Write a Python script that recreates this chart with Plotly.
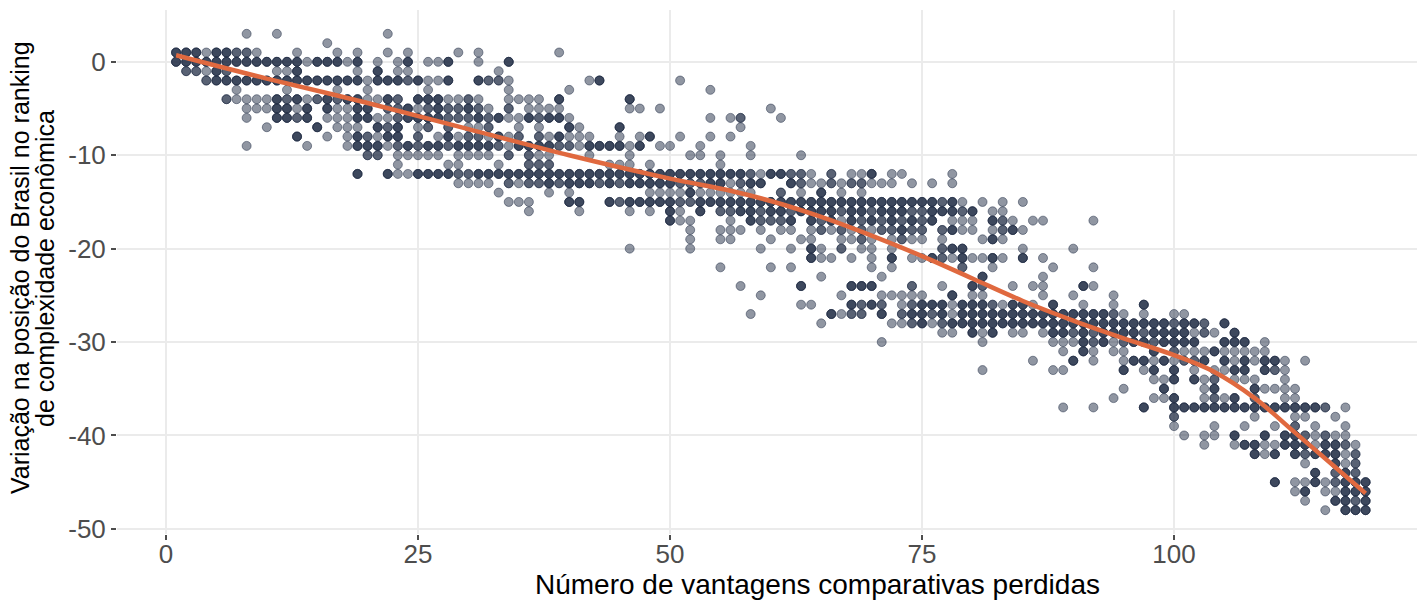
import plotly.graph_objects as go

# ---- data ----
# each row: y value (variation in ranking) and the x values (lost advantages) found on it
# suffix "g" = a few overlapping observations, "d" = many overlapping observations
y_rows = [3, 2, 1, 0, -1, -2, -3, -4, -5, -6, -7, -8, -9, -10, -11, -12, -13, -14, -15, -16,
          -17, -18, -19, -20, -21, -22, -23, -24, -25, -26, -27, -28, -29, -30, -31, -32, -33,
          -34, -35, -36, -37, -38, -39, -40, -41, -42, -43, -44, -45, -46, -47, -48]
x_runs = [
    "8,11,22",
    "16",
    "1-3d,4,5d,6d,7g,8g,9,13,17,19,22,24,29,31,39",
    "1-13d,14,15-17d,18,19d,21,23,24d,26,27,28d,31,34d",
    "2g,3g,4,5d,6g,11,12,13d,19,21d,23,24,33",
    "4g,5-19d,20,21-23d,24g,25d,26,27,28d,31d,32g,33g,34,42,43d,51",
    "7,12,17,20,26,34,40,54",
    "6g,7,8,9,10,11d,12g,13d,14,15g,16d,17g,18d,19d,20,21,22d,23g,25d,26d,27d,28,29,30g,31,34,35,36,37,39d,46d",
    "8,9,10,11d,12d,13,14d,16d,17,18,19d,20d,22g,23g,24d,25,26g,27d,28g,29g,30d,31g,32,34g,36,37,38,39,46,47,49,60",
    "8,11d,12d,13g,14d,16,17,18,19d,20d,21,22,23g,24d,25d,26d,27d,28g,29g,30g,31d,32g,33d,34,35,36d,37g,38d,39d,40,54,56,57g,61",
    "10,15d,17,18,19,21d,22g,23d,25,26g,28g,30,31,32g,35,37,40d,41,45d,57",
    "13d,16,18,19d,20g,21,22d,23d,25g,27,28d,29,30g,31g,32,33d,34,35g,37g,38,39d,40,41,42,45,47,48d,51,54,56",
    "8,14,18,19d,20d,21d,22,23g,24d,25g,26d,27d,28g,29-32d,33g,34,35-38d,39g,40g,41,42-45d,46,47d,49,50,53,58",
    "20g,21g,23,24,25,26,27,29,30,31,32,34g,36g,37,38,42,46,52,53,55,58,63",
    "23,28,29,33,36g,37g,38g,44,45,46,48,55",
    "19d,22d,23,24,25-28d,29g,30g,31-57d,58g,59,60d,61d,62g,63g,64,66g,68,69,70d,72,73,78",
    "29,30,31,32,34g,35,36g,37g,38d,39g,40-42d,43g,44d,45g,46-50d,51g,52g,53g,54d,55d,56,57g,58d,59d,62d,63g,64,65,66g,67,68g,69g,70,71,72,74,76,78",
    "33,38,40,48,49,50,51,52d,53,54,55,56,57,58,61g,63,65d,67,69",
    "34,35,36,40d,41d,44d,45g,46-50d,51g,52g,53-76d,77g,78d,79,81,83,85",
    "36,41,46,48,50d,51,53d,55g,56g,57d,58d,59g,60d,61d,62g,63-66d,67g,68d,69d,70g,71-73d,74g,75g,76-78d,79g,80d,82,83",
    "50d,51,52,56,58d,59g,60g,61g,62d,64d,65g,66d,67,68d,69g,70d,71g,72d,73g,74d,75g,76d,78,79,80,82d,83g,84,86,87,92",
    "52,55,56,57,59,61,62,64,65g,66,67g,68,69g,70,71g,72g,73d,74g,75g,77g,78d,79,80,82,83g,84d,85",
    "52,55,56,60,63,64,67,68,69g,70,72,73g,74,75,77,81,82d,83",
    "46,52,59,62,64d,65,67g,69,70,72,77g,78d,79d,85,90",
    "64d,65,66,68,70,72d,74,75,76d,77g,78,79d,80,81,82d,83,85d,87",
    "55,60,62,70,72,79g,82,88,92",
    "65,71,81d,87",
    "57,63d,68d,69d,70d,74g,77,80d,81g,84,86,87,91d,92",
    "59,67,71,72,73,74,75,78d,80,81,87,90,94",
    "63,64,68d,69g,70d,71g,73,74g,75-77d,78,79-81d,82g,83,84d,85d,86,88d,91,94,97d",
    "58,66d,67,68g,69g,71d,73g,74d,75d,76g,77d,78,79-93d,94g,95,97,100,101",
    "65,72,73,74g,75d,76,77g,78-99d,100g,101d,102d,103g,105d",
    "77,78,80d,81,82d,84,85,87,88d,89d,90g,91d,92g,93-96d,97g,98-101d,102,103g,104,106d",
    "71,81,88,89,90,91d,92g,93d,94,95g,96d,97d,98g,99-102d,105-107d,109",
    "89,91d,92,94,95,98d,100g,101,102,103,104d,105,106,107,108,109",
    "86,90d,92,95,96d,97d,98,99d,100,101g,102g,103d,105d,106,107d,108,109d,110d,111,113",
    "81,88,89,95d,97,98d,100d,102,104,105,106d,107d,109d,110g,111",
    "98,99,100d,102d,103,104g,106,107,108,111",
    "95,99d,103,104d,108d,109,110,111,112",
    "94,98,99,100d,103,104g,105,106d,108g,111,112",
    "89,92,97d,100-114d,115g,117",
    "100g,108,112,113,116",
    "100,104,107,110,112g,114,117",
    "101,103,104,106d,109d,111d,112d,113g,114,115g,116,117",
    "103,106,107d,108d,109,110,111d,112d,113d,114,115d,116d,117g,118",
    "108d,109,110d,112d,113g,114-116d,117,118g",
    "113,116d,117,118g",
    "114d,116g,117d,118g",
    "110d,112,113,114d,115,116g,117-119d",
    "112,113d,115,116,117d,118d,119d",
    "113,116d,117d,118g,119d",
    "115,117d,118d,119d",
]
shade_counts = {"": 1, "g": 2, "d": 3}

# smoothed trend
smooth_x = [1, 10, 20, 30, 40, 50, 56, 60, 65, 70, 75, 80, 85, 90, 95, 100, 104, 108,
            112, 116, 119]
smooth_y = [0.7, -1.8, -4.4, -7.2, -10.0, -12.5, -13.8, -14.9, -16.6, -18.6, -20.8, -23.2,
            -25.6, -27.7, -29.6, -31.4, -33.2, -36.0, -39.7, -43.4, -46.2]

x_tick_vals = [0, 25, 50, 75, 100]
x_tick_text = ["0", "25", "50", "75", "100"]
y_tick_vals = [0, -10, -20, -30, -40, -50]
y_tick_text = ["0", "-10", "-20", "-30", "-40", "-50"]

x_title = "Número de vantagens comparativas perdidas"
y_title_1 = "Variação na posição do Brasil no ranking"
y_title_2 = "de complexidade econômica"

# ---- expand rows into observations ----
pts_x, pts_y = [], []
for yv, spec in zip(y_rows, x_runs):
    for tok in spec.split(","):
        shade = tok[-1] if tok[-1] in "gd" else ""
        core = tok[:-1] if shade else tok
        if "-" in core:
            a, b = (int(v) for v in core.split("-"))
        else:
            a = b = int(core)
        for xv in range(a, b + 1):
            for _ in range(shade_counts[shade]):
                pts_x.append(xv)
                pts_y.append(yv)

FONT = "Liberation Sans, Arial, sans-serif"
dot = "rgba(34,46,70,0.5)"

fig = go.Figure()
fig.add_trace(go.Scatter(
    x=pts_x, y=pts_y, mode="markers",
    marker=dict(size=9, color=dot, line=dict(width=1, color=dot)),
    hoverinfo="skip",
))
fig.add_trace(go.Scatter(
    x=smooth_x, y=smooth_y, mode="lines",
    line=dict(color="#E0693F", width=4.5, shape="spline", smoothing=1.0),
    hoverinfo="skip",
))

axis_common = dict(
    showgrid=True, gridcolor="#EBEBEB", gridwidth=2, zeroline=False, showline=False,
    ticks="outside", ticklen=5, tickwidth=2, tickcolor="#4D4D4D",
    tickfont=dict(family=FONT, size=26, color="#4D4D4D"),
)
fig.update_xaxes(range=[-4.86, 124.1], tickmode="array", tickvals=x_tick_vals,
                 ticktext=x_tick_text, ticklabelstandoff=-8, **axis_common)
fig.update_yaxes(range=[-50.55, 5.55], tickmode="array", tickvals=y_tick_vals,
                 ticktext=y_tick_text, **axis_common)

fig.update_layout(
    width=1417, height=600,
    margin=dict(l=117, r=0, t=10, b=66),
    plot_bgcolor="white", paper_bgcolor="white",
    showlegend=False,
    font=dict(family=FONT, color="#000000"),
    annotations=[
        dict(text=x_title, xref="paper", yref="paper", x=0.5392, y=-0.096,
             xanchor="center", yanchor="middle", showarrow=False,
             font=dict(family=FONT, size=28, color="#000000")),
        dict(text=y_title_1, xref="paper", yref="paper", x=-0.0746, y=0.5076,
             xanchor="center", yanchor="middle", showarrow=False, textangle=-90,
             font=dict(family=FONT, size=25, color="#000000")),
        dict(text=y_title_2, xref="paper", yref="paper", x=-0.0554, y=0.5076,
             xanchor="center", yanchor="middle", showarrow=False, textangle=-90,
             font=dict(family=FONT, size=25, color="#000000")),
    ],
)

fig.write_html("out.html")
